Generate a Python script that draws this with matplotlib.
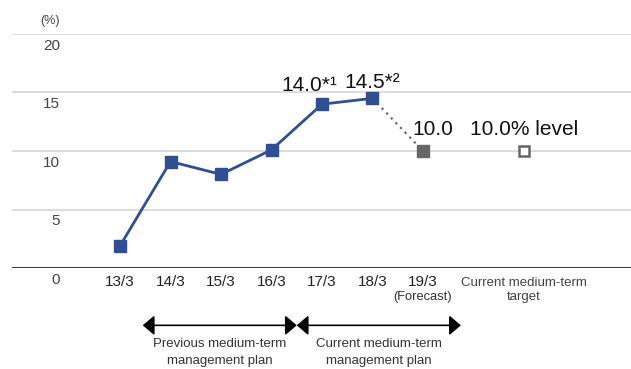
import matplotlib
matplotlib.use('Agg')
import matplotlib.pyplot as plt

plt.rcParams['font.family'] = ['Liberation Sans', 'DejaVu Sans']

# ROE by fiscal year (%)
years = ['13/3', '14/3', '15/3', '16/3', '17/3', '18/3']
roe = [1.9, 9.1, 8.0, 10.1, 14.0, 14.5]
forecast_label = '19/3'
forecast = 10.0
target_label = 'Current medium-term\ntarget'
target = 10.0
yticks = [0, 5, 10, 15, 20]

NAVY = '#2f4f92'
GRAY = '#666666'

fig = plt.figure(figsize=(6.31, 3.69), dpi=100)
ax = fig.add_axes([12 / 631, 1 - 268 / 369, 619 / 631, 234 / 369])
ax.set_xlim(-2.14, 10.12)
ax.set_ylim(0, 20)
ax.axis('off')

# gridlines and base line
for v in yticks[1:]:
    ax.axhline(v, color='#d9d9d9', lw=1.3, zorder=0)
ax.axhline(0, color='#333333', lw=1.4, zorder=1)

# y tick labels sit just below their gridline
for v in yticks:
    ax.annotate(str(v), (-1.19, v), xytext=(0, -12), textcoords='offset pixels',
                ha='right', va='center', fontsize=11, color='#444444')
ax.annotate('(%)', (-1.19, 20), xytext=(0, 13), textcoords='offset pixels',
            ha='right', va='center', fontsize=9, color='#444444')

xs = list(range(len(years)))
fx = len(years)
tx = len(years) + 2

ax.plot(xs, roe, color=NAVY, lw=2, marker='s', markersize=9, zorder=3)
ax.plot([xs[-1], fx], [roe[-1], forecast], color=GRAY, lw=1.6, ls=(0, (1, 2)), zorder=2)
ax.plot([fx], [forecast], marker='s', markersize=9, color=GRAY, ls='none', zorder=3)
ax.plot([tx], [target], marker='s', markersize=7, mfc='white', mec=GRAY, mew=1.8,
        ls='none', zorder=3)

# x category labels
for i, lab in enumerate(years + [forecast_label]):
    ax.annotate(lab, (i, 0), xytext=(0, -14), textcoords='offset pixels',
                ha='center', va='center', fontsize=11, color='#222222')
ax.annotate('(Forecast)', (fx, 0), xytext=(0, -29), textcoords='offset pixels',
            ha='center', va='center', fontsize=9.3, color='#333333')
ax.annotate(target_label, (tx, 0), xytext=(0, -22), textcoords='offset pixels',
            ha='center', va='center', fontsize=9.5, color='#444444', linespacing=1.3)

# value labels
ax.annotate(f'{roe[4]:.1f}*¹', (xs[4], roe[4]), xytext=(-13, 9), textcoords='offset pixels',
            ha='center', va='bottom', fontsize=15, color='#111111')
ax.annotate(f'{roe[5]:.1f}*²', (xs[5], roe[5]), xytext=(0, 6), textcoords='offset pixels',
            ha='center', va='bottom', fontsize=15, color='#111111')
ax.annotate(f'{forecast:.1f}', (fx, forecast), xytext=(10, 12), textcoords='offset pixels',
            ha='center', va='bottom', fontsize=15, color='#111111')
ax.annotate(f'{target:.1f}% level', (tx, target), xytext=(0, 12), textcoords='offset pixels',
            ha='center', va='bottom', fontsize=15, color='#111111')

# medium-term plan spans
arrow = dict(arrowstyle='<|-|>,head_length=0.7,head_width=0.6', color='black',
             lw=1.2, shrinkA=0, shrinkB=0)
span_y = -4.9
for (x0, x1), txt in [((0.45, 3.5), 'Previous medium-term\nmanagement plan'),
                      ((3.5, 6.75), 'Current medium-term\nmanagement plan')]:
    ax.annotate('', xy=(x1, span_y), xytext=(x0, span_y), arrowprops=arrow,
                annotation_clip=False)
    ax.annotate(txt, ((x0 + x1) / 2, span_y), xytext=(0, -27), textcoords='offset pixels',
                ha='center', va='center', fontsize=9.5, color='#333333',
                linespacing=1.5, annotation_clip=False)

fig.savefig('out.png', dpi=100)
